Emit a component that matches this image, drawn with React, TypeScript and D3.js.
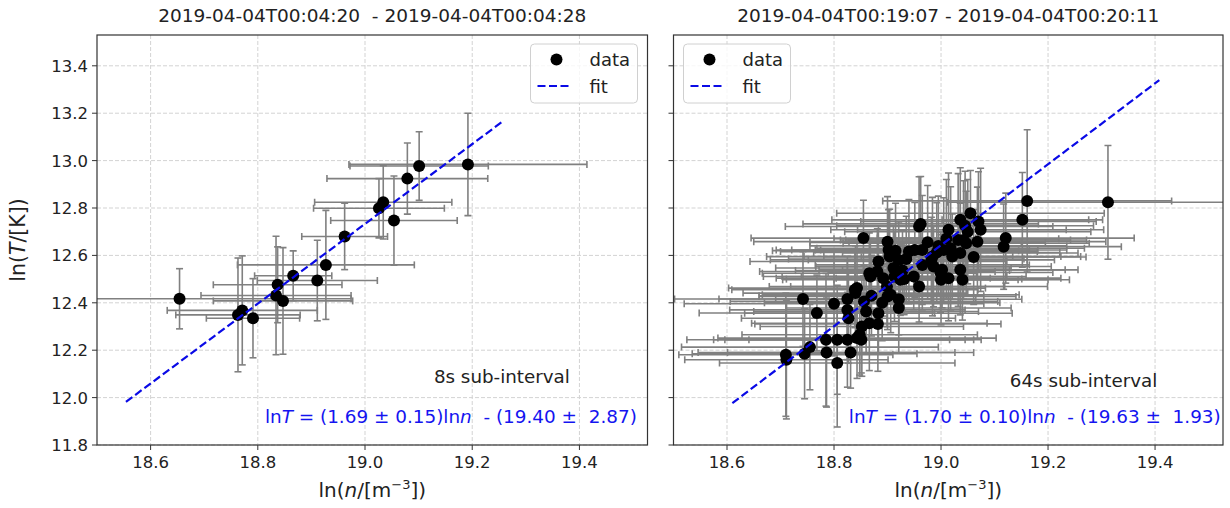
import React from 'react'
import * as d3 from 'd3'

const W = 1230
const H = 508
const FONT = 'DejaVu Sans, sans-serif'

const xTicks = [18.6, 18.8, 19.0, 19.2, 19.4]
const yTicks = [11.8, 12.0, 12.2, 12.4, 12.6, 12.8, 13.0, 13.2, 13.4]

const leftTitle = '2019-04-04T00:04:20  - 2019-04-04T00:04:28'
const rightTitle = '2019-04-04T00:19:07 - 2019-04-04T00:20:11'

// 8s sub-interval: ln n, ln T and their errors
const leftN = [18.654, 18.763, 18.771, 18.791, 18.834, 18.837, 18.847, 18.866, 18.911, 18.927, 18.962, 19.026, 19.034, 19.054, 19.079, 19.101, 19.192]
const leftT = [12.417, 12.349, 12.368, 12.335, 12.431, 12.476, 12.408, 12.514, 12.494, 12.560, 12.680, 12.799, 12.824, 12.747, 12.924, 12.977, 12.984]
const leftNErr = [0.32, 0.116, 0.14, 0.087, 0.14, 0.12, 0.13, 0.072, 0.112, 0.165, 0.08, 0.122, 0.128, 0.118, 0.15, 0.129, 0.222]
const leftTErr = [0.127, 0.24, 0.23, 0.167, 0.25, 0.16, 0.225, 0.105, 0.17, 0.23, 0.14, 0.125, 0.155, 0.188, 0.15, 0.145, 0.216]

// 64s sub-interval
const rightN = [
  18.710, 18.711, 18.745, 18.755, 18.742, 18.768, 18.785, 18.786, 18.806, 18.806,
  18.800, 18.825, 18.831, 18.843, 18.825, 18.827, 18.825, 18.840, 18.839, 18.848,
  18.852, 18.856, 18.860, 18.843, 18.866, 18.866, 18.855, 18.882, 18.883, 18.883,
  18.881, 18.868, 18.900, 18.900, 18.902, 18.904, 18.911, 18.921, 18.921, 18.921,
  18.928, 18.924, 18.940, 18.951, 18.949, 18.959, 18.962, 18.959, 18.965, 18.982,
  18.986, 18.984, 18.999, 19.000, 19.014, 19.018, 19.005, 19.032, 19.036, 19.036,
  19.040, 19.042, 19.055, 19.061, 19.068, 19.070, 19.074, 19.117, 19.121, 19.152,
  19.161, 19.312, 19.036, 19.021, 19.002, 19.014, 18.899, 18.906, 18.913, 18.992,
  19.047, 18.931, 18.892, 18.851, 18.975, 18.995, 19.010, 19.050, 18.935, 18.965,
  19.045, 18.915, 18.870, 18.890,
]
const rightT = [
  12.181, 12.160, 12.185, 12.213, 12.416, 12.357, 12.244, 12.190, 12.146, 12.244,
  12.396, 12.244, 12.190, 12.251, 12.370, 12.335, 12.416, 12.441, 12.455, 12.265,
  12.300, 12.406, 12.363, 12.462, 12.314, 12.525, 12.673, 12.311, 12.356, 12.574,
  12.532, 12.511, 12.427, 12.658, 12.623, 12.595, 12.547, 12.581, 12.415, 12.378,
  12.536, 12.497, 12.616, 12.623, 12.511, 12.722, 12.733, 12.469, 12.623, 12.581,
  12.553, 12.595, 12.528, 12.497, 12.708, 12.630, 12.623, 12.665, 12.750, 12.539,
  12.497, 12.665, 12.778, 12.593, 12.658, 12.743, 12.708, 12.637, 12.673, 12.750,
  12.830, 12.824, 12.610, 12.595, 12.539, 12.504, 12.469, 12.434, 12.511, 12.612,
  12.651, 12.500, 12.504, 12.244, 12.655, 12.640, 12.670, 12.700, 12.585, 12.560,
  12.725, 12.620, 12.430, 12.400,
]
const rightNErr = [
  0.20, 0.19, 0.21, 0.24, 0.24, 0.22, 0.26, 0.24, 0.22, 0.21,
  0.28, 0.25, 0.23, 0.26, 0.22, 0.20, 0.24, 0.21, 0.23, 0.22,
  0.19, 0.25, 0.21, 0.24, 0.22, 0.20, 0.21, 0.23, 0.25, 0.24,
  0.22, 0.20, 0.24, 0.25, 0.21, 0.23, 0.22, 0.24, 0.23, 0.21,
  0.20, 0.22, 0.24, 0.23, 0.21, 0.25, 0.22, 0.24, 0.20, 0.23,
  0.22, 0.24, 0.21, 0.20, 0.22, 0.25, 0.23, 0.21, 0.24, 0.22,
  0.20, 0.23, 0.25, 0.21, 0.24, 0.22, 0.23, 0.22, 0.24, 0.15,
  0.27, 0.30, 0.22, 0.24, 0.23, 0.21, 0.22, 0.24, 0.21, 0.23,
  0.23, 0.22, 0.20, 0.21, 0.22, 0.24, 0.21, 0.23, 0.22, 0.20,
  0.24, 0.23, 0.21, 0.22,
]
const rightTErr = [
  0.26, 0.25, 0.19, 0.18, 0.20, 0.16, 0.28, 0.23, 0.27, 0.23,
  0.22, 0.20, 0.15, 0.17, 0.21, 0.19, 0.18, 0.20, 0.16, 0.17,
  0.21, 0.15, 0.18, 0.19, 0.20, 0.17, 0.16, 0.20, 0.17, 0.15,
  0.18, 0.16, 0.14, 0.19, 0.17, 0.20, 0.18, 0.16, 0.15, 0.19,
  0.17, 0.15, 0.22, 0.20, 0.14, 0.21, 0.20, 0.15, 0.23, 0.18,
  0.17, 0.25, 0.17, 0.19, 0.24, 0.26, 0.22, 0.28, 0.22, 0.19,
  0.17, 0.25, 0.18, 0.20, 0.23, 0.21, 0.26, 0.18, 0.19, 0.20,
  0.30, 0.24, 0.21, 0.18, 0.16, 0.18, 0.17, 0.16, 0.19, 0.21,
  0.22, 0.15, 0.16, 0.14, 0.24, 0.21, 0.25, 0.22, 0.18, 0.19,
  0.23, 0.20, 0.17, 0.16,
]

// fitted lines ln T = a ln n - b, drawn over the n range below
const leftFit = { a: 1.684, b: 19.263, from: 18.554, to: 19.256 }
const rightFit = { a: 1.708, b: 19.809, from: 18.61, to: 19.408 }

const xDomain = [18.5, 19.527]
const yDomain = [11.8, 13.53]
const top = 35
const bottom = 445

function Panel({ id, x0, x1, title, ns, ts, nErr, tErr, fit, yLabels, legendLeft, note, noteY, eq }) {
  const x = d3.scaleLinear().domain(xDomain).range([x0, x1])
  const y = d3.scaleLinear().domain(yDomain).range([bottom, top])
  const pts = ns.map((n, i) => ({ n, t: ts[i], ne: nErr[i], te: tErr[i] }))
  const fitLine = d3.line().x(d => x(d)).y(d => y(fit.a * d - fit.b))
  const cap = 3.5
  const lgX = legendLeft ? x0 + 10 : x1 - 10 - 107
  const lgY = 44
  const cx = (x0 + x1) / 2

  return (
    <g fontFamily={FONT}>
      <defs>
        <clipPath id={id}>
          <rect x={x0} y={top} width={x1 - x0} height={bottom - top} />
        </clipPath>
      </defs>
      <rect x={x0} y={top} width={x1 - x0} height={bottom - top} fill="#fff" />
      {xTicks.map(v => (
        <line key={'gx' + v} x1={x(v)} x2={x(v)} y1={top} y2={bottom} stroke="#d3d3d3" strokeDasharray="4,2" />
      ))}
      {yTicks.map(v => (
        <line key={'gy' + v} x1={x0} x2={x1} y1={y(v)} y2={y(v)} stroke="#d3d3d3" strokeDasharray="4,2" />
      ))}
      <g clipPath={`url(#${id})`}>
        <g stroke="#808080" strokeWidth={1.6}>
          {pts.map((p, i) => (
            <g key={i}>
              <line x1={x(p.n - p.ne)} x2={x(p.n + p.ne)} y1={y(p.t)} y2={y(p.t)} />
              <line x1={x(p.n - p.ne)} x2={x(p.n - p.ne)} y1={y(p.t) - cap} y2={y(p.t) + cap} />
              <line x1={x(p.n + p.ne)} x2={x(p.n + p.ne)} y1={y(p.t) - cap} y2={y(p.t) + cap} />
              <line x1={x(p.n)} x2={x(p.n)} y1={y(p.t - p.te)} y2={y(p.t + p.te)} />
              <line x1={x(p.n) - cap} x2={x(p.n) + cap} y1={y(p.t - p.te)} y2={y(p.t - p.te)} />
              <line x1={x(p.n) - cap} x2={x(p.n) + cap} y1={y(p.t + p.te)} y2={y(p.t + p.te)} />
            </g>
          ))}
        </g>
        {pts.map((p, i) => (
          <circle key={'c' + i} cx={x(p.n)} cy={y(p.t)} r={6} fill="#000" />
        ))}
        <path d={fitLine([fit.from, fit.to])} fill="none" stroke="#0a0ae6" strokeWidth={2.2} strokeDasharray="8,3.5" />
      </g>
      <rect x={x0} y={top} width={x1 - x0} height={bottom - top} fill="none" stroke="#333" strokeWidth={1.2} />
      {xTicks.map(v => (
        <g key={'tx' + v}>
          <line x1={x(v)} x2={x(v)} y1={bottom} y2={bottom + 5} stroke="#333" />
          <text x={x(v)} y={bottom + 23} textAnchor="middle" fontSize={16.5} fill="#222">{v.toFixed(1)}</text>
        </g>
      ))}
      {yTicks.map(v => (
        <g key={'ty' + v}>
          <line x1={x0 - 5} x2={x0} y1={y(v)} y2={y(v)} stroke="#333" />
          {yLabels && (
            <text x={x0 - 9} y={y(v) + 6} textAnchor="end" fontSize={16.5} fill="#222">{v.toFixed(1)}</text>
          )}
        </g>
      ))}
      <text x={cx} y={22} textAnchor="middle" fontSize={18.5} fill="#222" style={{ whiteSpace: 'pre' }}>{title}</text>
      <text x={cx} y={497} textAnchor="middle" fontSize={20} fill="#222">
        ln(<tspan fontStyle="italic">n</tspan>/[m<tspan dy={-8} fontSize={13}>−3</tspan><tspan dy={8}>])</tspan>
      </text>
      <rect x={lgX} y={lgY} width={107} height={59} rx={4} fill="#fff" fillOpacity={0.8} stroke="#d0d0d0" />
      <circle cx={lgX + 26} cy={lgY + 15.5} r={6} fill="#000" />
      <line x1={lgX + 7} x2={lgX + 41} y1={lgY + 42} y2={lgY + 42} stroke="#0a0ae6" strokeWidth={2.2} strokeDasharray="8,3.5" />
      <text x={lgX + 59} y={lgY + 22} fontSize={18} fill="#222">data</text>
      <text x={lgX + 59} y={lgY + 49} fontSize={18} fill="#222">fit</text>
      <text x={x0 + 0.612 * (x1 - x0)} y={noteY} fontSize={18.3} fill="#222">{note}</text>
      <text x={x0 + eq.at * (x1 - x0)} y={423} fontSize={18.4} fill="#1414f0" style={{ whiteSpace: 'pre' }}>
        ln<tspan fontStyle="italic">T</tspan>{` = (${eq.a} ± ${eq.ae})ln`}<tspan fontStyle="italic">n</tspan>{`  - (${eq.b} ±  ${eq.be})`}
      </text>
    </g>
  )
}

export default function App() {
  return (
    <div style={{ position: 'fixed', left: 0, top: 0 }}>
      <svg width={W} height={H} viewBox={`0 0 ${W} ${H}`} style={{ display: 'block', background: '#fff' }}>
        <text transform="translate(25,240) rotate(-90)" textAnchor="middle" fontSize={20.5} fill="#222" fontFamily={FONT}>
          ln(<tspan fontStyle="italic">T</tspan>/[K])
        </text>
        <Panel id="cl" x0={97} x1={647.5} title={leftTitle} ns={leftN} ts={leftT} nErr={leftNErr} tErr={leftTErr}
          fit={leftFit} yLabels={true} legendLeft={false} note="8s sub-interval" noteY={383}
          eq={{ at: 0.305, a: '1.69', ae: '0.15', b: '19.40', be: '2.87' }} />
        <Panel id="cr" x0={673.5} x1={1223} title={rightTitle} ns={rightN} ts={rightT} nErr={rightNErr} tErr={rightTErr}
          fit={rightFit} yLabels={false} legendLeft={true} note="64s sub-interval" noteY={387}
          eq={{ at: 0.319, a: '1.70', ae: '0.10', b: '19.63', be: '1.93' }} />
      </svg>
    </div>
  )
}
